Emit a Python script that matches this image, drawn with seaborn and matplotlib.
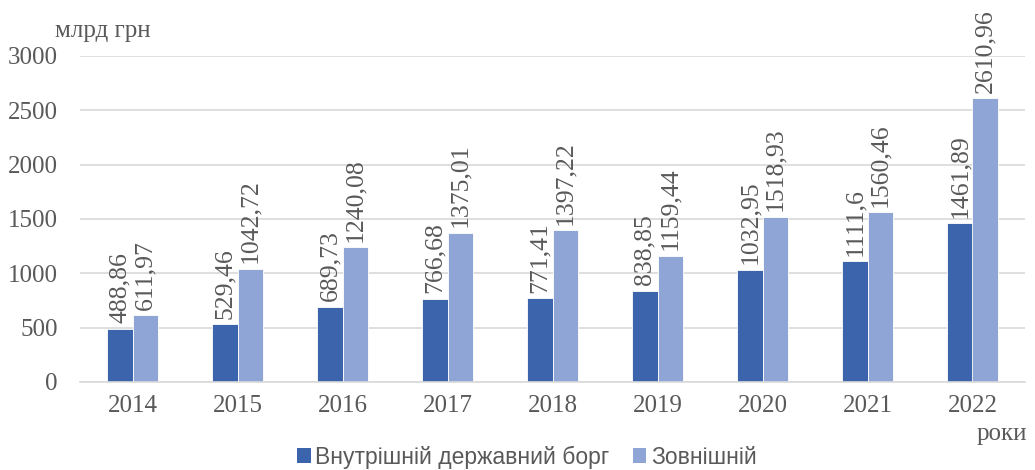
import matplotlib
matplotlib.use("Agg")
import matplotlib.pyplot as plt
import seaborn as sns
import pandas as pd
from matplotlib.patches import Patch

years = ["2014", "2015", "2016", "2017", "2018", "2019", "2020", "2021", "2022"]
domestic = [488.86, 529.46, 689.73, 766.68, 771.41, 838.85, 1032.95, 1111.6, 1461.89]
external = [611.97, 1042.72, 1240.08, 1375.01, 1397.22, 1159.44, 1518.93, 1560.46, 2610.96]
series_names = ["Внутрішній державний борг", "Зовнішній"]
yticks = [0, 500, 1000, 1500, 2000, 2500, 3000]

sns.set_theme(style="white")
plt.rcParams["font.family"] = ["Liberation Serif", "DejaVu Serif"]

TXT = "#595959"
colors = ["#3B64AD", "#8EA5D5"]

df = pd.DataFrame({
    "year": years * 2,
    "value": domestic + external,
    "series": [series_names[0]] * len(years) + [series_names[1]] * len(years),
})

fig = plt.figure(figsize=(10.35, 4.70), dpi=100)
ax = fig.add_axes([80 / 1035, 1 - 382 / 470, (1025 - 80) / 1035, (382 - 56) / 470])

sns.barplot(data=df, x="year", y="value", hue="series", palette=colors,
            width=0.48, saturation=1, edgecolor="white", linewidth=0.6,
            ax=ax, legend=True)

for cont, vals in zip(ax.containers, [domestic, external]):
    labels = [f"{v:g}".replace(".", ",") for v in vals]
    ax.bar_label(cont, labels=labels, rotation=90, padding=4,
                 fontsize=18.5, color=TXT)

ax.set_ylim(0, 3000)
ax.set_yticks(yticks)
ax.set_xlim(-0.5, len(years) - 0.5)
ax.yaxis.grid(True, color="#D9D9D9", linewidth=1.2)
ax.set_axisbelow(True)
for s in ["left", "right", "top"]:
    ax.spines[s].set_visible(False)
ax.spines["bottom"].set_color("#D9D9D9")
ax.spines["bottom"].set_linewidth(1.2)
ax.tick_params(axis="y", length=0, pad=16, labelsize=18, labelcolor=TXT)
ax.tick_params(axis="x", length=0, pad=9, labelsize=18, labelcolor=TXT)
ax.set_xlabel("")
ax.set_ylabel("")

fig.text(55 / 1035, 1 - 31 / 470, "млрд грн", fontsize=18, color=TXT,
         ha="left", va="center")
fig.text(1027 / 1035, 1 - 434 / 470, "роки", fontsize=18, color=TXT,
         ha="right", va="center")

if ax.get_legend() is not None:
    ax.get_legend().remove()
handles = [Patch(facecolor=c, edgecolor="none") for c in colors]
fig.legend(handles, series_names, loc="center", bbox_to_anchor=(0.509, 1 - 457 / 470),
           ncol=2, frameon=False, handlelength=0.6, handleheight=0.6,
           handletextpad=0.2, columnspacing=1.0, borderaxespad=0,
           prop={"family": ["Liberation Sans", "DejaVu Sans"], "size": 16.5},
           labelcolor=TXT)

fig.savefig("out.png", dpi=100)
